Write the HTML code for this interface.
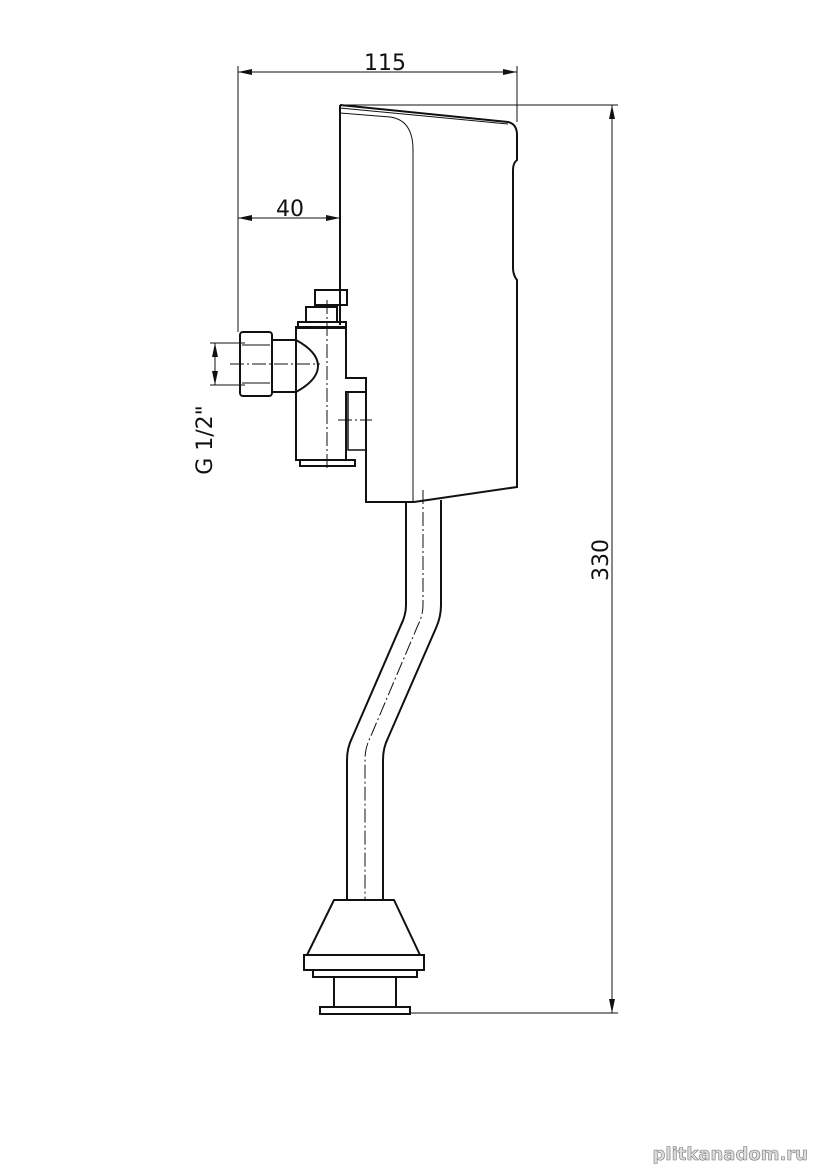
<!DOCTYPE html>
<html><head><meta charset="utf-8"><style>
html,body{margin:0;padding:0;background:#fff;}
svg{display:block;}
text{font-family:"DejaVu Sans","Liberation Sans",sans-serif;fill:#111;}
</style></head><body>
<svg width="828" height="1170" viewBox="0 0 828 1170" xmlns="http://www.w3.org/2000/svg">
<defs>
<marker id="a" markerWidth="14" markerHeight="8" refX="14" refY="4" orient="auto" markerUnits="userSpaceOnUse"><path d="M0,1 L14,4 L0,7 Z" fill="#111"/></marker>
</defs>
<g stroke="#111" fill="none" stroke-width="1">
<!-- dimension 115 -->
<line x1="238" y1="66" x2="238" y2="332"/>
<line x1="517" y1="66" x2="517" y2="122"/>
<line x1="238" y1="72" x2="517" y2="72" marker-end="url(#a)"/>
<line x1="517" y1="72" x2="238" y2="72" marker-end="url(#a)"/>
<!-- 40 -->
<line x1="238" y1="218" x2="340" y2="218" marker-end="url(#a)"/>
<line x1="340" y1="218" x2="238" y2="218" marker-end="url(#a)"/>
<!-- 330 -->
<line x1="340" y1="105" x2="618" y2="105"/>
<line x1="410" y1="1013" x2="618" y2="1013"/>
<line x1="612" y1="105" x2="612" y2="1013" marker-end="url(#a)"/>
<line x1="612" y1="1013" x2="612" y2="105" marker-end="url(#a)"/>
<!-- G1/2 -->
<line x1="210" y1="343" x2="245" y2="343"/>
<line x1="210" y1="385" x2="245" y2="385"/>
<line x1="215" y1="343" x2="215" y2="385" marker-end="url(#a)"/>
<line x1="215" y1="385" x2="215" y2="343" marker-end="url(#a)"/>
</g>
<g stroke="#111" fill="none" stroke-width="2">
<!-- body -->
<path d="M340,105 L508,122 Q517,124 517,135 L517,160 Q513,163 513,170 L513,268 Q513,275 517,280 L517,487 L414,502 L366,502 L366,378"/>
<line x1="340" y1="105" x2="340" y2="325"/>
<path d="M340,108 L508,124" stroke-width="1"/>
<!-- pipe -->
<path d="M406,502 L406,605 Q406,615 401,625 L352,738 Q347,748 347,760 L347,900"/>
<path d="M441,500 L441,605 Q441,617 436,628 L388,738 Q383,748 383,760 L383,900"/>
<!-- cone -->
<path d="M334,900 L394,900 L420,955 L307,955 Z"/>
<rect x="304" y="955" width="120" height="15"/>
<rect x="313" y="970" width="104" height="7"/>
<rect x="334" y="977" width="62" height="30"/>
<rect x="320" y="1007" width="90" height="7"/>
<!-- valve -->
<rect x="240" y="332" width="32" height="64" rx="3"/>
<path d="M272,340 L296,340 Q318,352 318,366 Q318,380 296,392 L272,392"/>
<path d="M296,327 L296,460 L346,460 L346,392 L366,392 L366,378 L346,378 L346,327 Z"/>
<rect x="298" y="322" width="48" height="6"/>
<rect x="306" y="307" width="31" height="15"/>
<rect x="315" y="290" width="32" height="15"/>
<rect x="300" y="460" width="55" height="6"/>
<rect x="348" y="392" width="18" height="58" stroke-width="1.5"/>
</g>
<g stroke="#111" fill="none" stroke-width="1">
<path d="M340,113 L390,117 Q413,120 413,150 L413,502"/>
<line x1="242" y1="345" x2="270" y2="345"/><line x1="242" y1="383" x2="270" y2="383"/>
<g stroke-dasharray="14,3,2,3">
<line x1="230" y1="364" x2="320" y2="364"/>
<line x1="327" y1="300" x2="327" y2="470"/>
<line x1="338" y1="420" x2="372" y2="420"/>
<path d="M423,490 L423,605 Q423,615 418,625 L370,738 Q365,748 365,760 L365,900"/>
</g>
</g>
<text x="385" y="70" font-size="22" text-anchor="middle">115</text>
<text x="290" y="216" font-size="22" text-anchor="middle">40</text>
<text transform="translate(608,560) rotate(-90)" font-size="22" text-anchor="middle">330</text>
<text transform="translate(212,440) rotate(-90)" font-size="22" text-anchor="middle">G 1/2"</text>
<text x="808" y="1160" font-size="18" font-weight="bold" text-anchor="end" style="fill:#ddd;stroke:#777;stroke-width:0.6">plitkanadom.ru</text>
</svg>
</body></html>
